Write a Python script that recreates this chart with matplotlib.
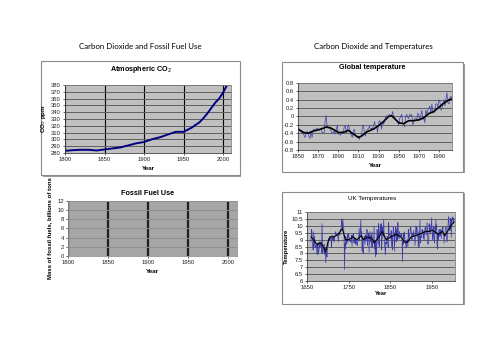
import matplotlib.pyplot as plt
import numpy as np
from matplotlib.patches import Rectangle

# ---- data ----
co2_years = [1800, 1810, 1820, 1830, 1840, 1850, 1860, 1870, 1880, 1890, 1900, 1910,
             1920, 1930, 1940, 1950, 1955, 1960, 1970, 1975, 1980, 1985, 1990, 1995, 2000, 2005]
co2_ppm = [283, 284, 284.5, 284.5, 283.5, 285, 286.5, 288, 291, 294, 296, 300,
           303, 307, 311, 311, 314, 317, 325, 331, 338, 346, 354, 360, 369, 380]

fossil_ticks = [0, 2, 4, 6, 8, 10, 12]

glob_years = list(range(1850, 2004))
glob_anom = [-0.30, -0.30, -0.32, -0.35, -0.33, -0.36, -0.45, -0.50, -0.42, -0.35,
             -0.40, -0.48, -0.52, -0.35, -0.50, -0.33, -0.30, -0.33, -0.30, -0.28,
             -0.30, -0.33, -0.30, -0.32, -0.38, -0.40, -0.38, -0.10, 0.02, -0.25,
             -0.28, -0.25, -0.28, -0.35, -0.40, -0.38, -0.35, -0.42, -0.35, -0.20,
             -0.42, -0.38, -0.45, -0.42, -0.38, -0.35, -0.25, -0.22, -0.40, -0.28,
             -0.20, -0.28, -0.38, -0.45, -0.50, -0.35, -0.30, -0.45, -0.47, -0.50,
             -0.48, -0.55, -0.47, -0.45, -0.25, -0.20, -0.40, -0.47, -0.35, -0.30,
             -0.30, -0.22, -0.30, -0.28, -0.30, -0.22, -0.12, -0.22, -0.22, -0.38,
             -0.15, -0.10, -0.15, -0.30, -0.13, -0.18, -0.13, 0.00, 0.02, 0.00,
             0.02, 0.05, 0.02, 0.00, 0.12, 0.00, -0.05, -0.05, -0.10, -0.10,
             -0.20, -0.05, 0.00, 0.05, -0.15, -0.20, -0.25, 0.00, 0.05, -0.02,
             -0.05, 0.05, 0.02, 0.05, -0.20, -0.12, -0.05, -0.05, -0.08, 0.08,
             0.02, -0.10, 0.02, 0.15, -0.08, -0.02, -0.15, 0.15, 0.05, 0.15,
             0.20, 0.25, 0.08, 0.30, 0.10, 0.08, 0.15, 0.30, 0.30, 0.22,
             0.40, 0.35, 0.15, 0.20, 0.30, 0.40, 0.25, 0.42, 0.57, 0.32,
             0.30, 0.45, 0.48, 0.45]
glob_smooth_years = [1850, 1855, 1860, 1865, 1870, 1875, 1878, 1882, 1886, 1890, 1895, 1900,
                     1905, 1910, 1913, 1918, 1925, 1930, 1935, 1940, 1943, 1946, 1950, 1955,
                     1960, 1965, 1970, 1975, 1980, 1985, 1990, 1995, 2000, 2003]
glob_smooth = [-0.30, -0.38, -0.40, -0.35, -0.32, -0.28, -0.25, -0.27, -0.32, -0.38, -0.38, -0.33,
               -0.42, -0.50, -0.47, -0.37, -0.30, -0.22, -0.12, 0.00, 0.02, -0.05, -0.15, -0.17,
               -0.10, -0.10, -0.08, -0.03, 0.07, 0.12, 0.22, 0.32, 0.40, 0.42]

uk_years = list(range(1659, 2004))
uk_temp = [8.83, 9.08, 9.75, 9.50, 8.58, 8.33, 8.25, 9.58, 8.50, 9.25,
           8.83, 8.42, 8.42, 8.58, 8.25, 7.92, 7.92, 8.75, 8.25, 8.00,
           8.33, 8.75, 8.42, 8.58, 8.83, 8.75, 8.08, 10.17, 8.92, 8.00,
           8.42, 8.42, 8.67, 7.92, 8.42, 8.42, 7.33, 8.08, 8.00, 7.75,
           8.33, 8.42, 8.75, 9.08, 8.92, 9.00, 9.00, 9.25, 9.08, 8.83,
           8.42, 9.33, 9.00, 9.08, 8.92, 9.25, 8.83, 9.08, 9.33, 9.42,
           9.58, 9.33, 9.33, 9.33, 9.42, 9.25, 8.83, 9.42, 9.58, 9.42,
           9.33, 9.75, 9.67, 9.83, 10.50, 10.17, 9.75, 10.50, 9.92, 9.92,
           9.17, 6.84, 8.75, 8.33, 9.25, 9.00, 8.67, 8.83, 9.42, 8.83,
           9.33, 9.42, 9.17, 8.92, 9.00, 8.83, 8.83, 8.92, 9.33, 8.50,
           9.33, 9.17, 9.42, 8.92, 8.75, 9.17, 8.83, 9.08, 8.67, 8.92,
           8.92, 8.58, 8.58, 9.00, 9.08, 9.08, 9.83, 8.92, 9.25, 9.67,
           10.42, 9.33, 9.58, 8.17, 9.25, 8.08, 8.00, 8.50, 9.25, 9.25,
           8.67, 9.17, 9.33, 8.92, 9.25, 9.75, 8.58, 9.08, 9.08, 9.50,
           8.08, 9.17, 9.58, 9.08, 8.83, 9.33, 8.42, 9.58, 8.50, 8.83,
           8.75, 8.75, 9.92, 8.33, 8.83, 7.75, 8.83, 7.92, 8.50, 9.75,
           9.42, 8.67, 9.33, 10.17, 8.50, 9.42, 9.67, 10.08, 9.42, 10.17,
           8.25, 8.92, 9.92, 9.42, 9.25, 10.50, 9.25, 8.67, 8.42, 7.92,
           8.83, 8.67, 8.92, 9.25, 9.25, 8.58, 8.42, 10.25, 9.33, 9.42,
           9.33, 9.08, 9.17, 9.67, 8.50, 9.33, 8.25, 8.92, 9.92, 9.42,
           9.50, 8.17, 9.50, 9.33, 9.92, 8.83, 9.42, 9.75, 9.00, 10.25,
           9.58, 9.17, 9.08, 9.58, 9.42, 9.42, 9.25, 9.25, 9.42, 9.33,
           7.42, 8.92, 8.67, 9.50, 9.08, 9.58, 8.83, 8.92, 8.58, 8.42,
           8.92, 9.00, 8.75, 8.50, 9.75, 9.42, 8.83, 9.42, 9.42, 9.92,
           9.83, 9.58, 9.17, 8.92, 9.50, 9.42, 9.25, 9.67, 9.33, 9.25,
           8.58, 9.17, 10.00, 9.25, 9.92, 9.92, 9.25, 9.25, 8.42, 9.58,
           8.50, 9.50, 10.42, 8.75, 9.25, 9.25, 9.17, 9.75, 9.42, 9.67,
           9.08, 9.58, 9.00, 9.58, 9.83, 9.92, 9.50, 9.33, 9.58, 10.25,
           9.67, 8.67, 8.83, 8.92, 10.17, 9.67, 10.08, 9.50, 9.67, 9.92,
           10.58, 9.67, 9.25, 9.00, 9.92, 9.33, 9.17, 8.75, 10.00, 9.42,
           10.42, 9.75, 10.08, 8.58, 8.33, 9.50, 8.92, 9.42, 9.75, 9.25,
           9.25, 9.42, 9.75, 9.08, 9.67, 9.67, 9.75, 9.92, 9.50, 9.33,
           8.75, 9.42, 9.25, 9.92, 9.92, 9.83, 9.08, 8.83, 9.17, 9.92,
           10.50, 10.67, 9.83, 10.00, 9.67, 10.33, 10.58, 9.17, 10.50, 10.42,
           10.67, 10.33, 10.17, 10.58, 10.50]
uk_smooth_years = [1660, 1668, 1675, 1680, 1687, 1695, 1700, 1705, 1715, 1725, 1735, 1742,
                   1750, 1760, 1770, 1780, 1785, 1795, 1805, 1812, 1825, 1830, 1840, 1850,
                   1865, 1875, 1885, 1890, 1900, 1910, 1920, 1935, 1945, 1950, 1960, 1965,
                   1975, 1980, 1985, 1995, 2003]
uk_smooth = [9.2, 8.9, 8.6, 8.8, 8.6, 8.1, 8.8, 9.2, 9.2, 9.4, 9.8, 9.0,
             9.0, 9.2, 9.0, 9.3, 9.0, 9.2, 9.1, 8.8, 9.3, 9.6, 9.0, 9.2,
             9.4, 9.2, 8.8, 8.8, 9.2, 9.3, 9.4, 9.6, 9.6, 9.7, 9.5, 9.4,
             9.6, 9.3, 9.5, 10.0, 10.3]

plt.rcParams['font.family'] = ['Liberation Sans', 'DejaVu Sans']

fig = plt.figure(figsize=(5, 3.53), dpi=100)
fig.patch.set_facecolor('white')

SILVER = '#c0c0c0'
TICK_FS = 4.2


def chart_box(x0, y0, x1, y1):
    # grey frame with a thin drop shadow, like an embedded spreadsheet chart
    fig.patches.append(Rectangle((x0 + 0.003, y0 - 0.004), x1 - x0, y1 - y0,
                                 transform=fig.transFigure, facecolor='#9a9a9a',
                                 edgecolor='none', zorder=-2))
    fig.patches.append(Rectangle((x0, y0), x1 - x0, y1 - y0, transform=fig.transFigure,
                                 facecolor='white', edgecolor='#8a8a8a', lw=0.8, zorder=-1))


def style_axes(ax, bg=SILVER):
    ax.set_facecolor(bg)
    for s in ['top', 'right']:
        ax.spines[s].set_color('#808080')
        ax.spines[s].set_linewidth(0.6)
    for s in ['left', 'bottom']:
        ax.spines[s].set_color('#404040')
        ax.spines[s].set_linewidth(0.6)
    ax.tick_params(labelsize=TICK_FS, length=1.5, width=0.5, pad=1.5, colors='#202020')
    ax.set_axisbelow(True)


# section titles
fig.text(0.28, 0.867, 'Carbon Dioxide and Fossil Fuel Use', ha='center', va='center',
         fontsize=5.7, family=['Lato', 'DejaVu Sans'])
fig.text(0.746, 0.867, 'Carbon Dioxide and Temperatures', ha='center', va='center',
         fontsize=5.7, family=['Lato', 'DejaVu Sans'])

# ---- Atmospheric CO2 ----
chart_box(0.082, 0.504, 0.480, 0.827)
ax1 = fig.add_axes([0.130, 0.567, 0.332, 0.192])
style_axes(ax1)
ax1.plot(co2_years, co2_ppm, color='#000080', lw=1.4)
ax1.set_xlim(1800, 2010)
ax1.set_ylim(280, 380)
ax1.set_yticks(range(280, 381, 10))
ax1.set_xticks(range(1800, 2001, 50))
ax1.grid(axis='y', color='#606060', lw=0.7)
ax1.grid(axis='x', color='black', lw=0.8)
ax1.set_xlabel('Year', fontsize=4.5, fontweight='bold', labelpad=3)
ax1.set_ylabel('CO$_2$ ppm', fontsize=4.5, fontweight='bold', labelpad=2)
fig.text(0.281, 0.802, 'Atmospheric CO$_2$', ha='center', va='center',
         fontsize=5.2, fontweight='bold')

# ---- Fossil Fuel Use (empty axes) ----
ax2 = fig.add_axes([0.136, 0.275, 0.338, 0.156])
style_axes(ax2, bg='#a6a6a6')
for s in ax2.spines.values():
    s.set_color('#909090')
ax2.set_xlim(1800, 2011)
ax2.set_ylim(0, 12)
ax2.set_yticks(fossil_ticks)
ax2.set_xticks(range(1800, 2001, 50))
ax2.grid(axis='y', color='#8e8e8e', lw=0.7)
ax2.grid(axis='x', color='#202020', lw=1.6)
ax2.set_xlabel('Year', fontsize=4.5, fontweight='bold', labelpad=3)
ax2.set_ylabel('Mass of fossil fuels, billions of tons', fontsize=4.3,
               fontweight='bold', labelpad=4)
fig.text(0.296, 0.453, 'Fossil Fuel Use', ha='center', va='center',
         fontsize=5.2, fontweight='bold')

# ---- Global temperature ----
chart_box(0.564, 0.513, 0.926, 0.824)
ax3 = fig.add_axes([0.596, 0.575, 0.308, 0.190])
style_axes(ax3)
ax3.plot(glob_years, glob_anom, color='#4040b0', lw=0.5)
ax3.plot(glob_smooth_years, glob_smooth, color='black', lw=1.2)
ax3.set_xlim(1850, 2003)
ax3.set_ylim(-0.8, 0.8)
ax3.set_yticks(np.round(np.arange(-0.8, 0.81, 0.2), 1))
ax3.set_yticklabels(['-0.8', '-0.6', '-0.4', '-0.2', '0', '0.2', '0.4', '0.6', '0.8'])
ax3.set_xticks(range(1850, 2000, 20))
ax3.grid(axis='y', color='#606060', lw=0.7)
ax3.set_xlabel('Year', fontsize=4.5, fontweight='bold', labelpad=3)
fig.text(0.745, 0.810, 'Global temperature', ha='center', va='center',
         fontsize=5.2, fontweight='bold')

# ---- UK Temperatures ----
chart_box(0.564, 0.139, 0.926, 0.456)
ax4 = fig.add_axes([0.614, 0.204, 0.296, 0.195])
style_axes(ax4)
ax4.plot(uk_years, uk_temp, color='#3a3aa8', lw=0.5)
ax4.plot(uk_smooth_years, uk_smooth, color='black', lw=0.8)
ax4.set_xlim(1650, 2005)
ax4.set_ylim(6, 11)
ax4.set_yticks(np.arange(6, 11.01, 0.5))
ax4.set_yticklabels(['6', '6.5', '7', '7.5', '8', '8.5', '9', '9.5', '10', '10.5', '11'])
ax4.set_xticks(range(1650, 2000, 100))
ax4.grid(axis='y', color='#606060', lw=0.7)
ax4.set_xlabel('Year', fontsize=4.2, fontweight='bold', labelpad=0.5)
ax4.set_ylabel('Temperature', fontsize=4.2, fontweight='bold', labelpad=2)
fig.text(0.745, 0.439, 'UK Temperatures', ha='center', va='center', fontsize=4.5)

fig.savefig('out.png', dpi=100)
